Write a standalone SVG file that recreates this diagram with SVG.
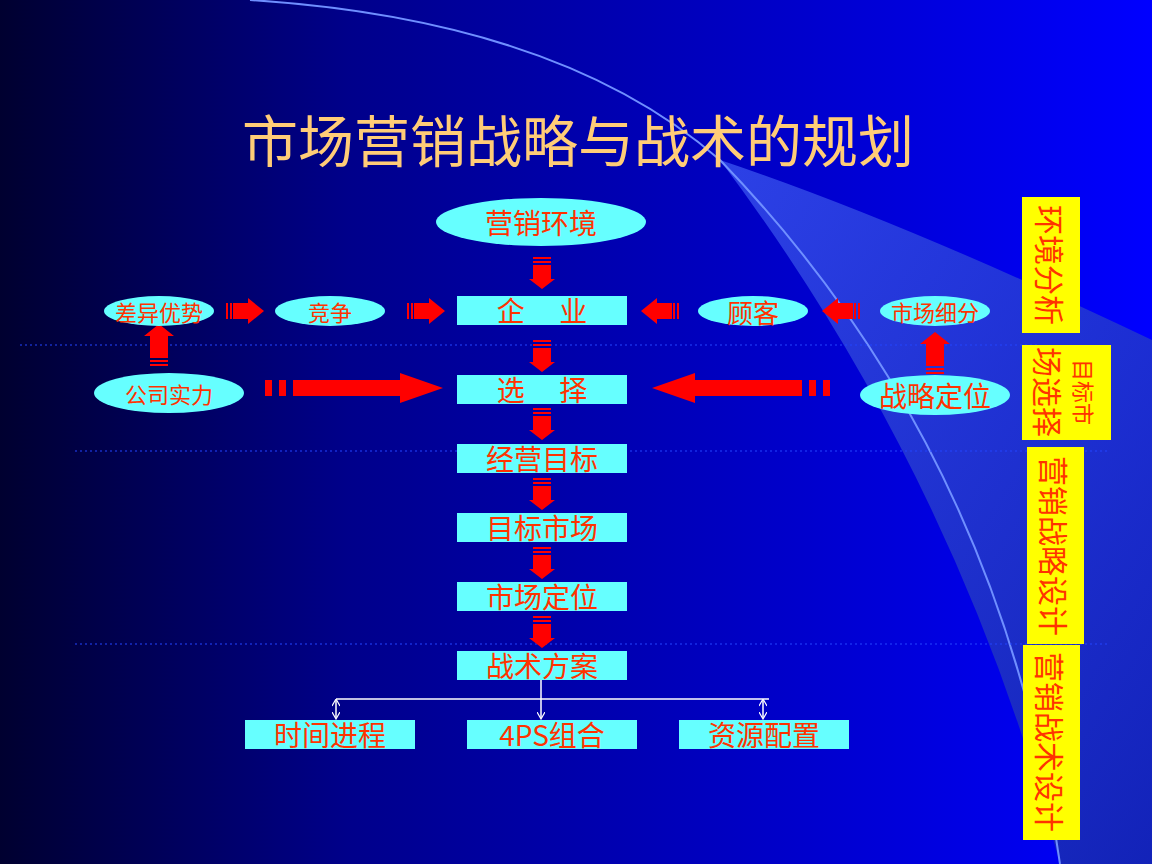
<svg xmlns="http://www.w3.org/2000/svg" width="1152" height="864" viewBox="0 0 1152 864">
<defs>
<linearGradient id="bg" x1="0" y1="0" x2="1" y2="0"><stop offset="0" stop-color="#000030"/><stop offset="0.3" stop-color="#00008a"/><stop offset="1" stop-color="#0000ff"/></linearGradient>
<linearGradient id="sw" x1="0" y1="0" x2="1" y2="1"><stop offset="0" stop-color="#4a6cff"/><stop offset="1" stop-color="#1f3a8a"/></linearGradient>
<marker id="wa" markerWidth="8" markerHeight="8" refX="6" refY="4" orient="auto" markerUnits="userSpaceOnUse"><path d="M0,0 L7,4 L0,8" fill="none" stroke="#fff" stroke-width="1.2"/></marker>
<marker id="ws" markerWidth="8" markerHeight="8" refX="1" refY="4" orient="auto" markerUnits="userSpaceOnUse"><path d="M7,0 L0,4 L7,8" fill="none" stroke="#fff" stroke-width="1.2"/></marker>
<g id="down"><rect x="-9" y="0" width="18" height="2" fill="#ff0000"/><rect x="-9" y="4" width="18" height="2" fill="#ff0000"/><path d="M-9,8 H9 V22 H13 L0,32 L-13,22 H-9 Z" fill="#ff0000"/></g>
<g id="right"><rect x="0" y="-8" width="2" height="16" fill="#ff0000"/><rect x="4" y="-8" width="2" height="16" fill="#ff0000"/><path d="M7,-8 H22 V-13 L38,0 L22,13 V8 H7 Z" fill="#ff0000"/></g>
<g id="up"><rect x="-9" y="0" width="18" height="2" fill="#ff0000"/><rect x="-9" y="-4" width="18" height="2" fill="#ff0000"/><path d="M-9,-6 V-28 H-15 L0,-40 L15,-28 H9 V-6 Z" fill="#ff0000"/></g>
<g id="bigright"><rect x="0" y="-8" width="7" height="16" fill="#ff0000"/><rect x="14" y="-8" width="7" height="16" fill="#ff0000"/><path d="M28,-8 H135 V-15 L178,0 L135,15 V8 H28 Z" fill="#ff0000"/></g>
</defs>
<style>
.t{font-family:"Noto Sans CJK SC","Liberation Serif",serif;fill:#ff3300;text-anchor:middle;dominant-baseline:central}
.box{fill:#66ffff}
.ell{fill:#66ffff}
.yb{fill:#ffff00}
.dot{stroke:#2244ff;stroke-width:1.2;stroke-dasharray:2 3}
</style>
<rect width="1152" height="864" fill="url(#bg)"/>
<path d="M720,160 Q900,220 1152,340 V864 H1060 Q960,480 720,160 Z" fill="url(#sw)" opacity="0.6"/>
<path d="M250,0 Q560,20 720,160 Q1000,450 1060,864" fill="none" stroke="#6f8fff" stroke-width="2"/>
<text x="578" y="137" font-size="56" fill="#ffcc77" font-family="'Noto Sans CJK SC',sans-serif" text-anchor="middle" dominant-baseline="central">市场营销战略与战术的规划</text>
<g id="dots"><line class="dot" x1="20" y1="345" x2="1040" y2="345"/><line class="dot" x1="75" y1="451" x2="1110" y2="451"/><line class="dot" x1="75" y1="644" x2="1110" y2="644"/></g>
<g id="connectors">
<use href="#down" x="542" y="257"/><use href="#down" x="542" y="340"/><use href="#down" x="542" y="408"/><use href="#down" x="542" y="478"/><use href="#down" x="542" y="547"/><use href="#down" x="542" y="616"/>
<use href="#right" x="226" y="311"/><use href="#right" x="407" y="311"/>
<use href="#right" transform="translate(860,311) scale(-1,1)"/><use href="#right" transform="translate(679,311) scale(-1,1)"/>
<use href="#bigright" x="265" y="388"/><use href="#bigright" transform="translate(830,388) scale(-1,1)"/>
<use href="#up" x="159" y="364"/>
<use href="#up" x="935" y="372"/>
<line x1="541" y1="680" x2="541" y2="718" stroke="#fff" stroke-width="1.5" marker-end="url(#wa)"/>
<line x1="336" y1="699" x2="769" y2="699" stroke="#fff" stroke-width="1.5"/>
<line x1="336" y1="700" x2="336" y2="718" stroke="#fff" stroke-width="1.5" marker-start="url(#ws)" marker-end="url(#wa)"/>
<line x1="763" y1="700" x2="763" y2="718" stroke="#fff" stroke-width="1.5" marker-start="url(#ws)" marker-end="url(#wa)"/>
</g>
<g id="n-env"><ellipse class="ell" cx="541" cy="222" rx="105" ry="24"/><text class="t" x="541" y="222" font-size="28">营销环境</text></g>
<g id="n-diff"><ellipse class="ell" cx="159" cy="311" rx="55" ry="15"/><text class="t" x="159" y="311" font-size="22">差异优势</text></g>
<g id="n-comp"><ellipse class="ell" cx="330" cy="311" rx="55" ry="15"/><text class="t" x="330" y="311" font-size="22">竞争</text></g>
<g id="n-cust"><ellipse class="ell" cx="753" cy="311" rx="55" ry="15"/><text class="t" x="753" y="311" font-size="26">顾客</text></g>
<g id="n-seg"><ellipse class="ell" cx="935" cy="311" rx="55" ry="15"/><text class="t" x="935" y="311" font-size="22">市场细分</text></g>
<g id="n-power"><ellipse class="ell" cx="169" cy="393" rx="75" ry="20"/><text class="t" x="169" y="393" font-size="22">公司实力</text></g>
<g id="n-pos"><ellipse class="ell" cx="935" cy="395" rx="75" ry="20"/><text class="t" x="935" y="395" font-size="28">战略定位</text></g>
<g id="n-ent"><rect class="box" x="457" y="296" width="170" height="29"/><text class="t" x="542" y="310" font-size="28" xml:space="preserve">企　 业</text></g>
<g id="n-sel"><rect class="box" x="457" y="375" width="170" height="29"/><text class="t" x="542" y="389" font-size="28" xml:space="preserve">选　 择</text></g>
<g id="n-goal"><rect class="box" x="457" y="444" width="170" height="29"/><text class="t" x="542" y="458" font-size="28">经营目标</text></g>
<g id="n-tm"><rect class="box" x="457" y="513" width="170" height="29"/><text class="t" x="542" y="527" font-size="28">目标市场</text></g>
<g id="n-mp"><rect class="box" x="457" y="582" width="170" height="29"/><text class="t" x="542" y="596" font-size="28">市场定位</text></g>
<g id="n-tac"><rect class="box" x="457" y="651" width="170" height="29"/><text class="t" x="542" y="665" font-size="28">战术方案</text></g>
<g id="n-time"><rect class="box" x="245" y="720" width="170" height="29"/><text class="t" x="330" y="734" font-size="28">时间进程</text></g>
<g id="n-4ps"><rect class="box" x="467" y="720" width="170" height="29"/><text class="t" x="552" y="734" font-size="28" font-family="'Liberation Serif','Noto Sans CJK SC',serif">4PS组合</text></g>
<g id="n-res"><rect class="box" x="679" y="720" width="170" height="29"/><text class="t" x="764" y="734" font-size="28">资源配置</text></g>
<g id="r1"><rect class="yb" x="1022" y="197" width="58" height="136"/><text class="t" font-size="30" transform="translate(1051,265) rotate(90)">环境分析</text></g>
<g id="r2"><rect class="yb" x="1022" y="345" width="89" height="95"/><text class="t" font-size="22" transform="translate(1085,392) rotate(90)">目标市</text><text class="t" font-size="30" transform="translate(1049,392) rotate(90)">场选择</text></g>
<g id="r3"><rect class="yb" x="1027" y="447" width="57" height="197"/><text class="t" font-size="30" transform="translate(1055,546) rotate(90)">营销战略设计</text></g>
<g id="r4"><rect class="yb" x="1023" y="645" width="57" height="195"/><text class="t" font-size="30" transform="translate(1051,742) rotate(90)">营销战术设计</text></g>
</svg>
